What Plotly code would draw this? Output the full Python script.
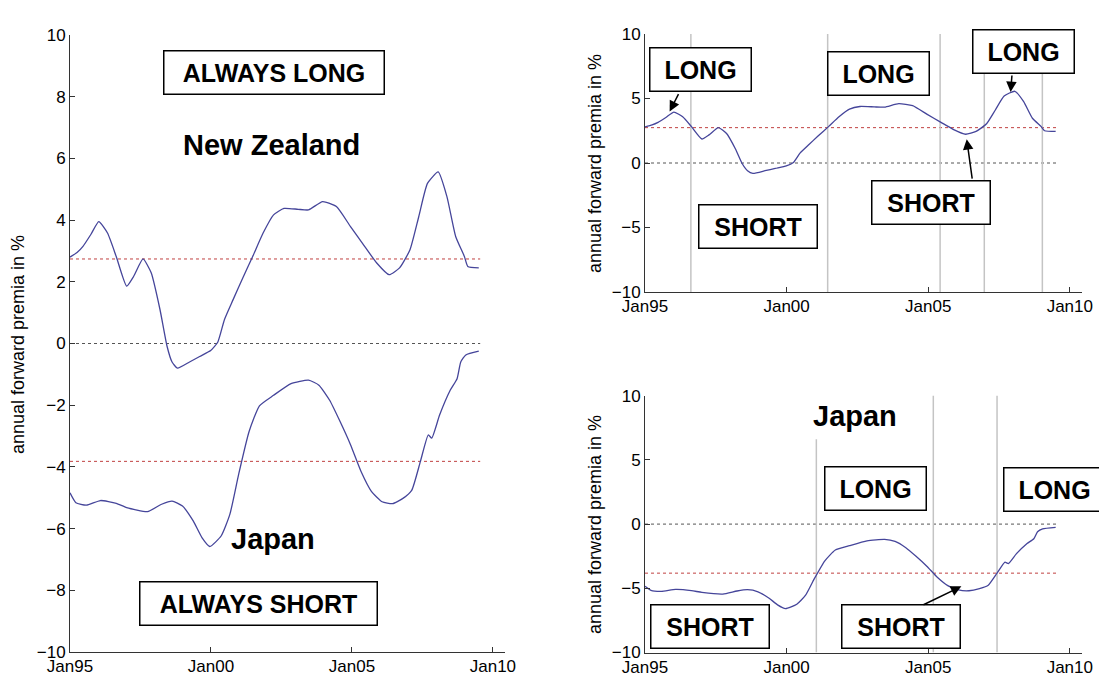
import plotly.graph_objects as go

# ---- data -------------------------------------------------------------
# annual forward premia (%) sampled along the 1995-2009 window
nz_t = [1995.00, 1995.25, 1995.46, 1995.75, 1996.02, 1996.33, 1996.64, 1997.01,
        1997.26, 1997.59, 1997.88, 1998.19, 1998.44, 1998.62, 1998.81, 1999.24,
        1999.60, 1999.99, 2000.24, 2000.48, 2000.79, 2001.10, 2001.48, 2001.85,
        2002.22, 2002.59, 2003.09, 2003.46, 2003.96, 2004.45, 2004.95, 2005.45,
        2005.88, 2006.32, 2006.69, 2007.06, 2007.37, 2007.68, 2008.06, 2008.37,
        2008.68, 2008.99, 2009.11, 2009.50]
nz_v = [2.80, 2.95, 3.15, 3.55, 3.95, 3.58, 2.82, 1.86,
        2.18, 2.74, 2.29, 1.11, -0.08, -0.60, -0.80, -0.60,
        -0.42, -0.23, 0.04, 0.78, 1.43, 2.07, 2.82, 3.58,
        4.17, 4.38, 4.35, 4.33, 4.60, 4.44, 3.79, 3.15,
        2.61, 2.23, 2.45, 3.04, 4.11, 5.19, 5.56, 4.76,
        3.47, 2.82, 2.50, 2.45]

jp_t = [1995.00, 1995.21, 1995.58, 1996.08, 1996.64, 1997.01, 1997.75, 1998.25,
        1998.62, 1998.99, 1999.37, 1999.68, 1999.96, 2000.36, 2000.67, 2000.98,
        2001.35, 2001.72, 2002.22, 2002.84, 2003.46, 2003.83, 2004.21, 2004.58,
        2004.95, 2005.32, 2005.69, 2006.07, 2006.44, 2006.81, 2007.12, 2007.43,
        2007.71, 2007.83, 2008.11, 2008.49, 2008.73, 2008.86, 2009.04, 2009.50]
jp_v = [-4.84, -5.16, -5.24, -5.09, -5.18, -5.32, -5.45, -5.21,
        -5.11, -5.27, -5.75, -6.29, -6.58, -6.24, -5.54, -4.25,
        -2.86, -2.02, -1.68, -1.30, -1.19, -1.35, -1.84, -2.53,
        -3.28, -4.14, -4.79, -5.13, -5.19, -5.02, -4.76, -3.82,
        -2.96, -3.07, -2.32, -1.51, -1.14, -0.60, -0.37, -0.25]

nz_mean = 2.74
jp_mean = -3.82

# dates where the trading position switches
nz_switch = [1996.62, 2001.45, 2005.42, 2006.98, 2009.03]
jp_switch = [2001.05, 2005.18, 2007.43]

x_ticks = [1995, 2000, 2005, 2010]
x_labels = ["Jan95", "Jan00", "Jan05", "Jan10"]
left_y_ticks = [-10, -8, -6, -4, -2, 0, 2, 4, 6, 8, 10]
right_y_ticks = [-10, -5, 0, 5, 10]

# ---- styling ----------------------------------------------------------
FONT = "Liberation Sans, Arial, sans-serif"
W, H = 1099, 680
LINE = "#45459a"
T_END = 2009.55

def px_x(p):
    return p / W

def px_y(p):
    return 1 - p / H

fig = go.Figure()

def series(t, v, xa, ya):
    fig.add_trace(go.Scatter(x=t, y=v, mode="lines", xaxis=xa, yaxis=ya,
                             line=dict(color=LINE, width=1.3, shape="spline", smoothing=0.5),
                             showlegend=False, hoverinfo="skip"))

series(nz_t, nz_v, "x", "y")
series(jp_t, jp_v, "x", "y")
series(nz_t, nz_v, "x2", "y2")
series(jp_t, jp_v, "x3", "y3")

shapes = []

def hline(yv, xr, yr, color):
    shapes.append(dict(type="line", xref=xr, yref=yr, x0=nz_t[0], x1=T_END, y0=yv, y1=yv,
                       line=dict(color=color, width=1, dash="dot"), layer="below"))

def vline(xv, y0, y1, xr, yr):
    shapes.append(dict(type="line", xref=xr, yref=yr, x0=xv, x1=xv, y0=y0, y1=y1,
                       line=dict(color="#c4c4c4", width=1.5), layer="below"))

hline(0, "x", "y", "#555555")
hline(nz_mean, "x", "y", "#c04040")
hline(jp_mean, "x", "y", "#c04040")
hline(0, "x2", "y2", "#555555")
hline(nz_mean, "x2", "y2", "#c04040")
hline(0, "x3", "y3", "#555555")
hline(jp_mean, "x3", "y3", "#c04040")

for s in nz_switch:
    vline(s, -10, 10.3, "x2", "y2")
for i, s in enumerate(jp_switch):
    vline(s, -10, 6.6 if i == 0 else 10.4, "x3", "y3")

ann = []

def box(text, x, y, w, h, xr, yr, size=25):
    ann.append(dict(text=f"<b>{text}</b>", x=x, y=y, xref=xr, yref=yr, showarrow=False,
                    width=w - 3, height=h - 3, borderwidth=1.5, bordercolor="black",
                    borderpad=0, bgcolor="white", xanchor="center", yanchor="middle",
                    align="center", valign="middle",
                    font=dict(size=size, family=FONT, color="black")))

def label(text, x, y, xr, yr, size=29):
    ann.append(dict(text=f"<b>{text}</b>", x=x, y=y, xref=xr, yref=yr, showarrow=False,
                    xanchor="center", yanchor="middle",
                    font=dict(size=size, family=FONT, color="black")))

def arrow(x, y, ax, ay, xr, yr):
    ann.append(dict(text="", x=x, y=y, ax=ax, ay=ay, xref=xr, yref=yr, axref=xr, ayref=yr,
                    showarrow=True, arrowhead=2, arrowsize=1.4, arrowwidth=1.5,
                    arrowcolor="black"))

# left panel: both currencies together
box("ALWAYS LONG", 2002.24, 8.8, 222, 45, "x", "y")
label("New Zealand", 2002.16, 6.45, "x", "y")
label("Japan", 2002.2, -6.35, "x", "y")
box("ALWAYS SHORT", 2001.67, -8.42, 239, 45, "x", "y")

# top right: New Zealand
label("New Zealand", 2002.59, 11.15, "x2", "y2")
box("LONG", 1996.97, 7.25, 103, 45, "x2", "y2")
box("LONG", 2003.24, 6.92, 103, 45, "x2", "y2")
box("LONG", 2008.35, 8.63, 103, 45, "x2", "y2")
box("SHORT", 1998.99, -4.89, 120, 45, "x2", "y2")
box("SHORT", 2005.11, -3.05, 120, 45, "x2", "y2")
arrow(1995.87, 4.0, 1996.21, 5.45, "x2", "y2")
arrow(2007.91, 5.5, 2007.96, 6.9, "x2", "y2")
arrow(2006.36, 1.85, 2006.56, -1.33, "x2", "y2")

# bottom right: Japan
label("Japan", 2002.4, 8.45, "x3", "y3")
box("LONG", 2003.14, 2.8, 103, 45, "x3", "y3")
box("LONG", 2009.45, 2.66, 103, 45, "x3", "y3")
box("SHORT", 1997.31, -8.0, 120, 45, "x3", "y3")
box("SHORT", 2004.03, -8.0, 120, 45, "x3", "y3")
arrow(2006.17, -4.85, 2004.78, -6.34, "x3", "y3")

# y axis titles
for xp, yc in [(18, 345), (595, 164), (595, 525)]:
    ann.append(dict(text="annual forward premia in %", x=px_x(xp), y=px_y(yc),
                    xref="paper", yref="paper", showarrow=False, textangle=-90,
                    xanchor="center", yanchor="middle",
                    font=dict(size=18, family=FONT, color="black")))

def xaxis(dom, anchor):
    return dict(domain=dom, anchor=anchor, range=[1995, 2010.43], tickvals=x_ticks,
                ticktext=x_labels, showline=True, linecolor="#333333", linewidth=1,
                ticks="inside", ticklen=5, tickcolor="#333333", showgrid=False,
                zeroline=False, ticklabelstandoff=-1, automargin=False,
                tickfont=dict(size=17, family=FONT, color="black"))

def yaxis(dom, anchor, tv):
    return dict(domain=dom, anchor=anchor, range=[-10, 10], tickvals=tv,
                showline=True, linecolor="#333333", linewidth=1,
                ticks="inside", ticklen=5, tickcolor="#333333", showgrid=False,
                zeroline=False, automargin=False,
                tickfont=dict(size=17, family=FONT, color="black"))

fig.update_layout(
    width=W, height=H, margin=dict(l=0, r=0, t=0, b=0, autoexpand=False),
    paper_bgcolor="white", plot_bgcolor="white",
    xaxis=xaxis([px_x(70), px_x(505)], "y"),
    yaxis=yaxis([px_y(652), px_y(35)], "x", left_y_ticks),
    xaxis2=xaxis([px_x(645), px_x(1082)], "y2"),
    yaxis2=yaxis([px_y(292), px_y(34)], "x2", right_y_ticks),
    xaxis3=xaxis([px_x(645), px_x(1082)], "y3"),
    yaxis3=yaxis([px_y(652.5), px_y(395.7)], "x3", right_y_ticks),
    shapes=shapes, annotations=ann, showlegend=False,
    font=dict(family=FONT),
)

fig.write_html("out.html")
